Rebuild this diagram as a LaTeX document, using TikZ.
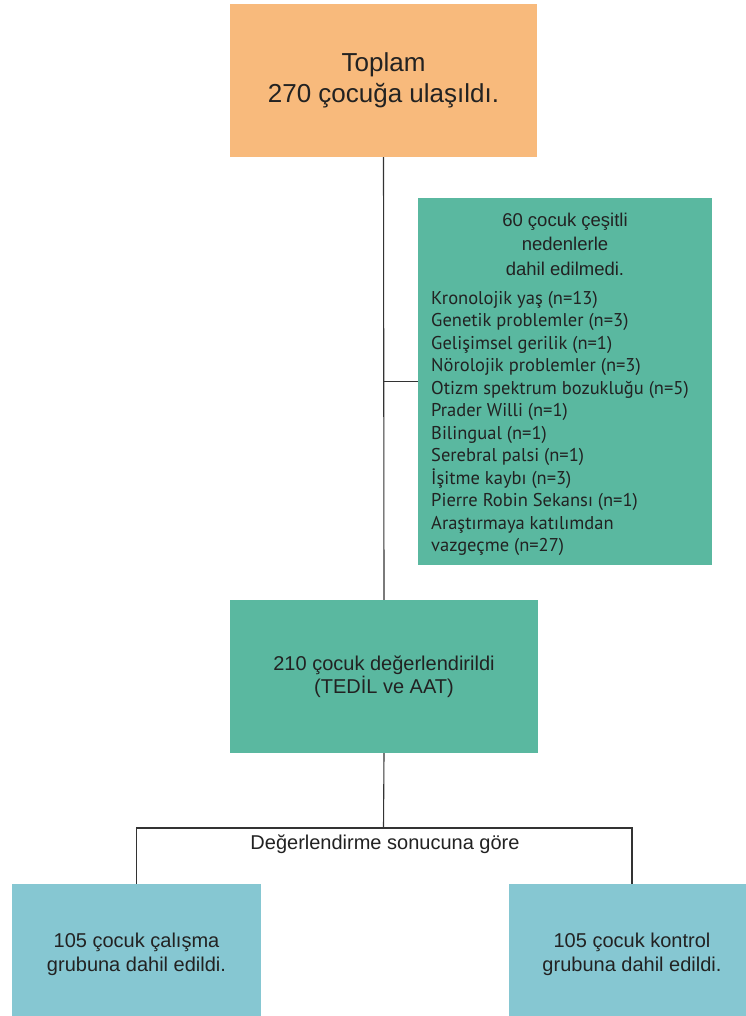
\documentclass[tikz,border=0pt]{standalone}
\usepackage{fontspec}
\setmainfont{Liberation Sans}
\newfontfamily\listfont{PT Sans}
\definecolor{orangebox}{HTML}{F8BA7C}
\definecolor{greenbox}{HTML}{5AB8A0}
\definecolor{bluebox}{HTML}{86C7D2}
\definecolor{txt}{HTML}{222222}
\definecolor{linec}{HTML}{333333}
\begin{document}
\begin{tikzpicture}[x=1pt,y=-1pt,
  box/.style={rectangle,inner sep=0pt,text=txt,align=center},
  conn/.style={draw=linec,line width=1.1pt}]
\useasboundingbox (0,0) rectangle (745,1016);
\fill[white] (0,0) rectangle (745,1016);
% top box
\node[box,fill=orangebox,minimum width=307pt,minimum height=153pt,
  font=\fontsize{26}{30.5}\selectfont] (top) at (383.5,80.5) {Toplam\\270 çocuğa ulaşıldı.};
% exclusion box
\node[box,fill=greenbox,minimum width=294pt,minimum height=367pt] (excl) at (565,381.5) {};
\node[anchor=base,inner sep=0pt,text=txt] (title) at (565,226.5)
  {\parbox[t]{280pt}{\centering\fontsize{18.5}{24.3}\selectfont 60 çocuk çeşitli\\nedenlerle\\dahil edilmedi.}};
\node[anchor=base west,inner sep=0pt,text=txt] (list) at (431,304)
  {\parbox[t]{285pt}{\raggedright\listfont\fontsize{18.5}{22.5}\selectfont
  Kronolojik yaş (n=13)\\
  Genetik problemler (n=3)\\
  Gelişimsel gerilik (n=1)\\
  Nörolojik problemler (n=3)\\
  Otizm spektrum bozukluğu (n=5)\\
  Prader Willi (n=1)\\
  Bilingual (n=1)\\
  Serebral palsi (n=1)\\
  İşitme kaybı (n=3)\\
  Pierre Robin Sekansı (n=1)\\
  Araştırmaya katılımdan\\
  vazgeçme (n=27)}};
% middle box
\node[box,fill=greenbox,minimum width=308pt,minimum height=153pt,
  font=\fontsize{20}{23}\selectfont] (mid) at (384,676.5) {210 çocuk değerlendirildi\\(TEDİL ve AAT)};
% bottom boxes
\node[box,fill=bluebox,minimum width=249pt,minimum height=140pt,
  font=\fontsize{20}{24}\selectfont] (left) at (136.5,954) {105 çocuk çalışma\\grubuna dahil edildi.};
\node[box,fill=bluebox,minimum width=246pt,minimum height=140pt,
  font=\fontsize{20}{24}\selectfont] (right) at (632,954) {105 çocuk kontrol\\grubuna dahil edildi.};
% connectors
\draw[conn] (top.south) -- (mid.north);
\draw[conn] (excl.west -| top.south) -- (excl.west);
\coordinate (j2) at (383.5,828);
\draw[conn] (mid.south) -- (j2);
\draw[conn] (left.north) -- (left.north |- j2) -- (right.north |- j2) -- (right.north);
\node[anchor=base,inner sep=0pt,text=txt,font=\fontsize{20}{24}\selectfont] (crit) at (385,849) {Değerlendirme sonucuna göre};
\end{tikzpicture}
\end{document}
